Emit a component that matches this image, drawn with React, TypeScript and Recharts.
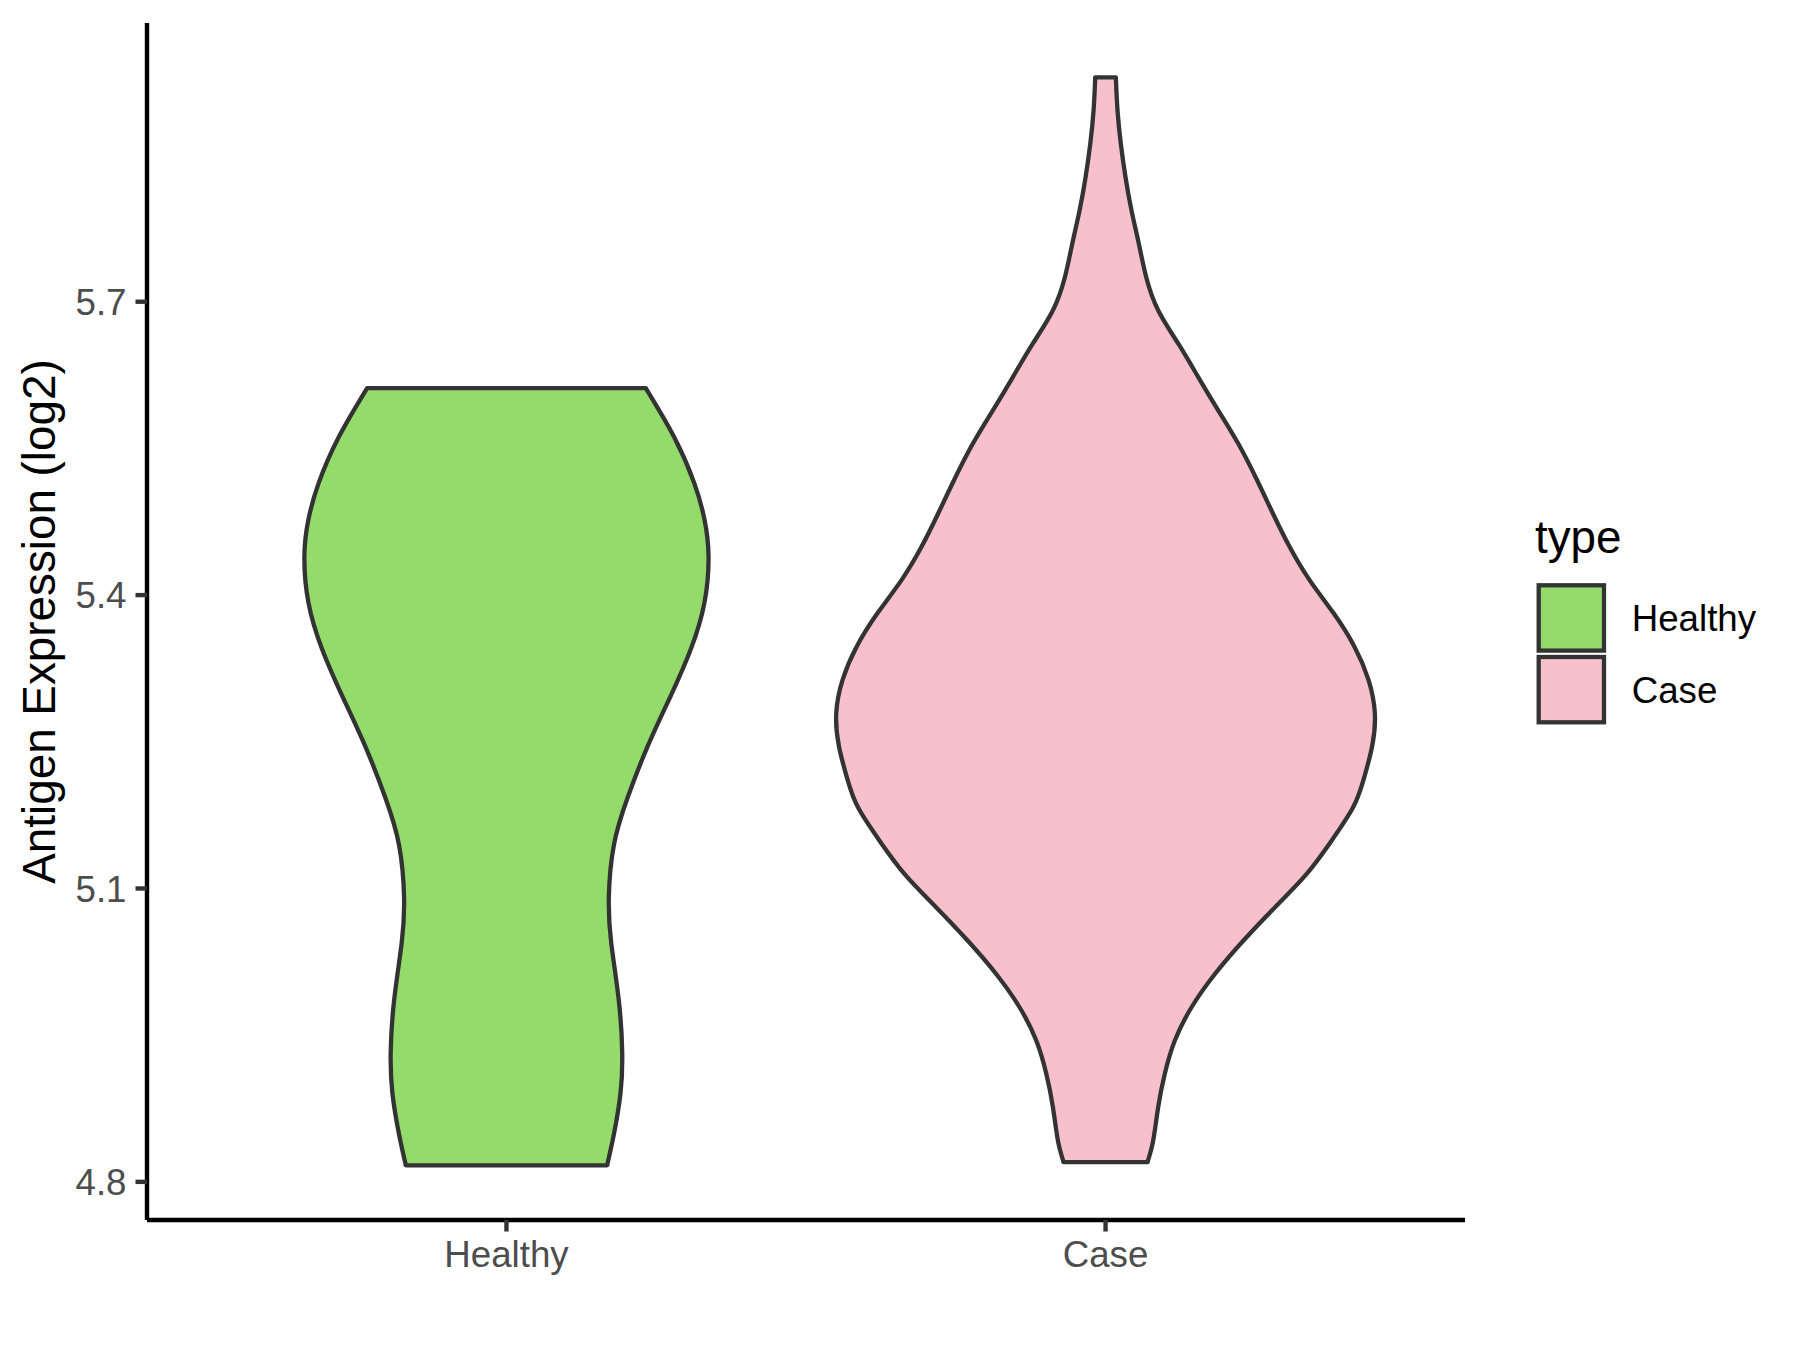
import React from "react";
import { Area, ComposedChart, Legend, ReferenceLine, XAxis, YAxis } from "recharts";

const FONT = "'Liberation Sans', Arial, Helvetica, sans-serif";

const groups = ["Healthy", "Case"];
const groupFills = ["#93DB6A", "#F8C0CB"];

// outline of each violin: expression level and half width (in category units)
const healthyY = [
  4.8169, 4.8485, 4.8908, 4.933, 4.9857, 5.0443, 5.0916, 5.1444, 5.192,
  5.2448, 5.2975, 5.3451, 5.3926, 5.4402, 5.4771, 5.514, 5.5614, 5.6117,
];
const healthyHalfWidth = [
  0.168, 0.1793, 0.1904, 0.1932, 0.1875, 0.1749, 0.1709, 0.1793, 0.2017,
  0.2353, 0.2746, 0.308, 0.3306, 0.3373, 0.3306, 0.3138, 0.2801, 0.2325,
];

const caseY = [
  4.8201, 4.8421, 4.8762, 4.9102, 4.9442, 4.9783, 5.0123, 5.0463, 5.0804,
  5.1144, 5.1484, 5.1825, 5.2114, 5.2454, 5.2795, 5.3135, 5.3475, 5.3816,
  5.4156, 5.4496, 5.4837, 5.5177, 5.5552, 5.5892, 5.6232, 5.6573, 5.6913,
  5.7253, 5.7594, 5.7934, 5.8274, 5.8615, 5.8955, 5.9295,
];
const caseHalfWidth = [
  0.07, 0.0795, 0.0878, 0.0988, 0.1155, 0.1433, 0.1822, 0.2295, 0.2822,
  0.335, 0.3767, 0.4128, 0.4307, 0.445, 0.4495, 0.4388, 0.4153, 0.3805,
  0.3403, 0.307, 0.2792, 0.2528, 0.2212, 0.1878, 0.1545, 0.1212, 0.0878,
  0.0678, 0.0555, 0.0433, 0.0333, 0.0255, 0.02, 0.0172,
];

const yTicks = [4.8, 5.1, 5.4, 5.7];
const yDomain = [4.761, 5.985];
const xDomain = [0.4, 2.6];

const outlines = [
  { ys: healthyY, hw: healthyHalfWidth },
  { ys: caseY, hw: caseHalfWidth },
];

const violins = groups.map((name, g) => {
  const pos = g + 1;
  const { ys, hw } = outlines[g];
  const rows = ys.map((y, i) => ({ y, range: [pos - hw[i], pos + hw[i]] }));
  return { name, pos, fill: groupFills[g], rows };
});

const OUTLINE = "#333333";

const LegendBox = () => (
  <svg width={280} height={240} style={{ fontFamily: FONT }}>
    <text x={15} y={48} fontSize={45.8} fill="#000">
      type
    </text>
    {groups.map((name, i) => (
      <g key={name}>
        <rect
          x={18.7}
          y={80.3 + i * 71.7}
          width={65.3}
          height={65.3}
          fill={groupFills[i]}
          stroke={OUTLINE}
          strokeWidth={4.3}
        />
        <text x={111.7} y={125.7 + i * 72} fontSize={36.7} fill="#000">
          {name}
        </text>
      </g>
    ))}
  </svg>
);

export default function App() {
  return (
    <div
      style={{
        position: "absolute",
        left: 0,
        top: 0,
        width: 1800,
        height: 1350,
        background: "#fff",
        fontFamily: FONT,
      }}
    >
      <ComposedChart
        width={1800}
        height={1350}
        layout="vertical"
        margin={{ top: 23, right: 335, bottom: 0, left: 0 }}
      >
        <XAxis
          type="number"
          domain={xDomain}
          ticks={[1, 2]}
          tickFormatter={(v) => groups[v - 1]}
          allowDataOverflow
          height={130}
          axisLine={{ stroke: "#000", strokeWidth: 4.4 }}
          tickLine={{ stroke: "#333", strokeWidth: 4.4 }}
          tickSize={11.5}
          tickMargin={9}
          tick={{ fill: "#4D4D4D", fontSize: 36.7 }}
        />
        <YAxis
          type="number"
          dataKey="y"
          domain={yDomain}
          ticks={yTicks}
          reversed
          tickFormatter={(v) => v.toFixed(1)}
          allowDataOverflow
          width={147}
          axisLine={{ stroke: "#000", strokeWidth: 4.4 }}
          tickLine={{ stroke: "#333", strokeWidth: 4.4 }}
          tickSize={11.5}
          tickMargin={9}
          tick={{ fill: "#4D4D4D", fontSize: 36.7 }}
          label={{
            value: "Antigen Expression (log2)",
            angle: -90,
            position: "insideLeft",
            offset: 39,
            style: { textAnchor: "middle", fill: "#000", fontSize: 45.8 },
          }}
        />
        {violins.map((v) => (
          <Area
            key={v.name}
            name={v.name}
            data={v.rows}
            dataKey="range"
            type="natural"
            fill={v.fill}
            fillOpacity={1}
            stroke={OUTLINE}
            strokeWidth={4.3}
            dot={false}
            activeDot={false}
            isAnimationActive={false}
          />
        ))}
        {violins.map((v) => {
          const ends = [v.rows[0], v.rows[v.rows.length - 1]];
          return ends.map((r, k) => (
            <ReferenceLine
              key={v.name + k}
              segment={[
                { x: r.range[0], y: r.y },
                { x: r.range[1], y: r.y },
              ]}
              stroke={OUTLINE}
              strokeWidth={4.3}
              strokeLinecap="round"
            />
          ));
        })}
        <Legend
          layout="vertical"
          align="center"
          verticalAlign="middle"
          wrapperStyle={{ left: 1520, top: 505, width: 280, height: 240 }}
          content={() => <LegendBox />}
        />
      </ComposedChart>
    </div>
  );
}
